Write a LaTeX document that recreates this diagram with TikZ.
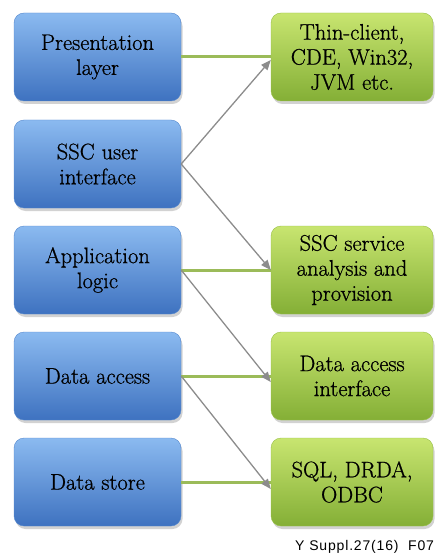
\documentclass[tikz,border=0pt]{standalone}
\usepackage{fontspec}
\newfontfamily\boxfont[FakeBold=0.8]{Latin Modern Roman}
\newfontfamily\capfont[LetterSpace=6]{Liberation Sans}
\usetikzlibrary{shadows,arrows.meta}
\definecolor{bluetop}{HTML}{8BBAF0}
\definecolor{bluebot}{HTML}{3E72C0}
\definecolor{greentop}{HTML}{C8E570}
\definecolor{greenbot}{HTML}{84AF36}
\definecolor{linkgreen}{HTML}{9BBB59}
\definecolor{linkgray}{HTML}{8C8C8C}
\begin{document}
\begin{tikzpicture}[x=1pt,y=-1pt,
    layer/.style={rounded corners=10pt,minimum width=167pt,minimum height=88pt,
        align=center,top color=bluetop,bottom color=bluebot,draw=bluebot!70!bluetop,
        drop shadow={shadow xshift=1.5pt,shadow yshift=-3pt,fill=black!35},
        font=\boxfont\fontsize{22.5}{25}\selectfont},
    tech/.style={layer,minimum width=162pt,top color=greentop,bottom color=greenbot,
        draw=greenbot!70!greentop},
    pairs/.style={draw=linkgreen,line width=3pt},
    feeds/.style={draw=linkgray,line width=1.3pt,-{Triangle[length=10pt,width=8pt]}}]
    \useasboundingbox (0,0) rectangle (435,553);
    \node[layer] (pres) at (97.5,57) {Presentation\\layer};
    \node[layer] (sscui) at (97.5,164) {SSC user\\interface};
    \node[layer] (applog) at (97.5,270) {Application\\logic};
    \node[layer] (dataacc) at (97.5,376) {Data access};
    \node[layer] (datastore) at (97.5,482) {Data store};
    \node[tech] (thin) at (352,57) {Thin-client,\\CDE, Win32,\\JVM etc.};
    \node[tech] (service) at (352,270) {SSC service\\analysis and\\provision};
    \node[tech] (dataint) at (352,376) {Data access\\interface};
    \node[tech] (sql) at (352,482) {SQL, DRDA,\\ODBC};
    \draw[pairs] (pres.east) -- (thin.west);
    \draw[pairs] (applog.east) -- (service.west);
    \draw[pairs] (dataacc.east) -- (dataint.west);
    \draw[pairs] (datastore.east) -- (sql.west);
    \draw[feeds] (sscui.east) -- ([yshift=-3pt]thin.west);
    \draw[feeds] (sscui.east) -- (service.west);
    \draw[feeds] (applog.east) -- ([yshift=-6pt]dataint.west);
    \draw[feeds] (dataacc.east) -- ([yshift=-7pt]sql.west);
    \node[anchor=base west,inner sep=0pt,font=\capfont\fontsize{14}{16}\selectfont] (figid) at (295,550) {Y Suppl.27(16)\ \ F07};
\end{tikzpicture}
\end{document}
